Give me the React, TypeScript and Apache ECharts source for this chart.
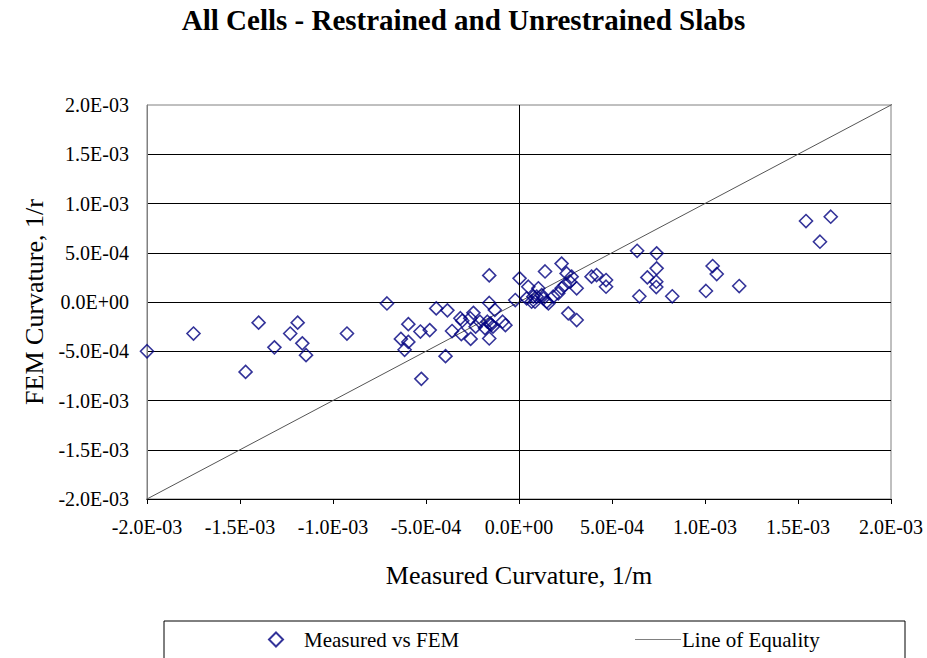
import React, { useEffect, useRef } from "react";
import * as echarts from "echarts";

const TITLE = "All Cells - Restrained and Unrestrained Slabs";
const X_NAME = "Measured Curvature, 1/m";
const Y_NAME = "FEM Curvature, 1/r";
const SERIES_POINTS = "Measured vs FEM";
const SERIES_LINE = "Line of Equality";

// Measured curvature (1/m)
const measured = [
  -2.0e-3, -1.75e-3, -1.47e-3, -1.4e-3, -1.315e-3, -1.23e-3, -1.19e-3, -1.165e-3, -1.145e-3,
  -0.925e-3, -0.71e-3, -0.595e-3, -0.635e-3, -0.595e-3, -0.615e-3, -0.53e-3, -0.525e-3,
  -0.48e-3, -0.445e-3, -0.385e-3, -0.395e-3, -0.36e-3, -0.315e-3, -0.305e-3, -0.31e-3,
  -0.26e-3, -0.245e-3, -0.262e-3, -0.233e-3, -0.21e-3, -0.16e-3, -0.16e-3, -0.13e-3,
  -0.17e-3, -0.155e-3, -0.183e-3, -0.14e-3, -0.16e-3, -0.15e-3, -0.088e-3, -0.073e-3,
  -0.02e-3, 0.003e-3, 0.05e-3, 0.041e-3, 0.077e-3, 0.068e-3, 0.104e-3, 0.095e-3, 0.086e-3,
  0.122e-3, 0.131e-3, 0.14e-3, 0.149e-3, 0.158e-3, 0.184e-3, 0.211e-3, 0.229e-3, 0.229e-3,
  0.247e-3, 0.256e-3, 0.283e-3, 0.274e-3, 0.31e-3, 0.265e-3, 0.31e-3, 0.39e-3, 0.417e-3,
  0.468e-3, 0.468e-3, 0.635e-3, 0.74e-3, 0.74e-3, 0.69e-3, 0.738e-3, 0.738e-3, 0.647e-3,
  0.824e-3, 1.005e-3, 1.041e-3, 1.063e-3, 1.184e-3, 1.543e-3, 1.676e-3, 1.618e-3,
];

// FEM curvature (1/m)
const fem = [
  -0.5e-3, -0.32e-3, -0.71e-3, -0.21e-3, -0.46e-3, -0.32e-3, -0.21e-3, -0.42e-3, -0.54e-3,
  -0.32e-3, -0.015e-3, -0.225e-3, -0.375e-3, -0.405e-3, -0.485e-3, -0.3e-3, -0.78e-3,
  -0.285e-3, -0.065e-3, -0.085e-3, -0.55e-3, -0.295e-3, -0.165e-3, -0.19e-3, -0.325e-3,
  -0.375e-3, -0.11e-3, -0.165e-3, -0.25e-3, -0.2e-3, 0.27e-3, -0.01e-3, -0.08e-3,
  -0.2e-3, -0.22e-3, -0.265e-3, -0.25e-3, -0.37e-3, -0.23e-3, -0.2e-3, -0.235e-3,
  0.02e-3, 0.24e-3, 0.155e-3, 0.037e-3, 0.054e-3, 0.003e-3, 0.139e-3, 0.054e-3, 0.003e-3,
  0.071e-3, 0.037e-3, 0.31e-3, 0.003e-3, -0.014e-3, 0.054e-3, 0.088e-3, 0.139e-3, 0.39e-3,
  0.173e-3, 0.29e-3, 0.257e-3, 0.206e-3, 0.139e-3, -0.115e-3, -0.183e-3, 0.257e-3, 0.274e-3,
  0.223e-3, 0.155e-3, 0.52e-3, 0.494e-3, 0.342e-3, 0.25e-3, 0.206e-3, 0.152e-3, 0.058e-3,
  0.058e-3, 0.112e-3, 0.365e-3, 0.284e-3, 0.162e-3, 0.822e-3, 0.866e-3, 0.612e-3,
];

// Line of equality end points (extends slightly past the plot as in the source)
const equalityX = [-2.05e-3, 2.1e-3];

const AXIS_MIN = -2.0e-3;
const AXIS_MAX = 2.0e-3;
const AXIS_STEP = 0.5e-3;

const FONT = "Liberation Serif";

// thin horizontal line icon, centred vertically in its box (tiny corner dots fix the box)
const LINE_ICON =
  "path://M0,0h0.01v0.01h-0.01z M0,6.5h46v1h-46z M45.99,13.99h0.01v0.01h-0.01z";

function sci(v: number): string {
  if (Math.abs(v) < 1e-12) return "0.0E+00";
  let exp = Math.floor(Math.log10(Math.abs(v)));
  let mant = v / Math.pow(10, exp);
  if (Math.abs(mant) >= 9.95) {
    mant /= 10;
    exp += 1;
  }
  const e = Math.abs(exp);
  return mant.toFixed(1) + "E" + (exp < 0 ? "-" : "+") + (e < 10 ? "0" + e : String(e));
}

export default function App() {
  const ref = useRef<HTMLDivElement>(null);

  useEffect(() => {
    document.body.style.margin = "0";
    if (!ref.current) return;
    const chart = echarts.init(ref.current, undefined, { renderer: "svg" });

    const points = measured.map((m, i) => [m, fem[i]]);
    const eqLine = equalityX.map((v) => [v, v]);

    chart.setOption({
      animation: false,
      backgroundColor: "#ffffff",
      textStyle: { fontFamily: FONT, fontSize: 20, color: "#000" },
      title: {
        text: TITLE,
        left: "center",
        top: 5,
        padding: 0,
        textStyle: { fontFamily: FONT, fontSize: 29, fontWeight: "bold", color: "#000" },
      },
      grid: {
        left: 147,
        right: 36,
        top: 105,
        bottom: 159,
        show: true,
        borderColor: "#808080",
        borderWidth: 1,
        backgroundColor: "transparent",
      },
      xAxis: {
        type: "value",
        min: AXIS_MIN,
        max: AXIS_MAX,
        interval: AXIS_STEP,
        name: X_NAME,
        nameLocation: "middle",
        nameGap: 63,
        nameTextStyle: { fontFamily: FONT, fontSize: 26, color: "#000" },
        axisLine: { show: true, onZero: false, lineStyle: { color: "#000", width: 1 } },
        axisTick: { show: true, inside: false, length: 5, lineStyle: { color: "#000" } },
        axisLabel: {
          fontFamily: FONT,
          fontSize: 20,
          color: "#000",
          margin: 18,
          formatter: (v: number) => sci(v),
        },
        splitLine: { show: false },
      },
      yAxis: {
        type: "value",
        min: AXIS_MIN,
        max: AXIS_MAX,
        interval: AXIS_STEP,
        name: Y_NAME,
        nameLocation: "middle",
        nameGap: 100,
        nameRotate: 90,
        nameTextStyle: { fontFamily: FONT, fontSize: 26, color: "#000" },
        axisLine: { show: true, onZero: false, lineStyle: { color: "#808080", width: 1 } },
        axisTick: { show: false },
        axisLabel: {
          fontFamily: FONT,
          fontSize: 20,
          color: "#000",
          margin: 18,
          formatter: (v: number) => sci(v),
        },
        splitLine: {
          show: true,
          showMaxLine: false,
          showMinLine: false,
          lineStyle: { color: "#000", width: 1 },
        },
      },
      legend: [
        {
          data: [SERIES_POINTS],
          left: 268,
          top: 629,
          padding: 0,
          itemWidth: 14,
          itemHeight: 14,
          textStyle: {
            fontFamily: FONT,
            fontSize: 21,
            color: "#000",
            padding: [0, 0, 0, 16],
          },
        },
        {
          data: [{ name: SERIES_LINE, icon: LINE_ICON }],
          left: 635,
          top: 629,
          padding: 0,
          itemWidth: 46,
          itemHeight: 14,
          itemStyle: { color: "#808080", borderWidth: 0 },
          textStyle: {
            fontFamily: FONT,
            fontSize: 21,
            color: "#000",
            padding: [0, 0, 0, -4],
          },
        },
      ],
      graphic: [
        {
          type: "rect",
          shape: { x: 164, y: 621, width: 741, height: 60 },
          style: { fill: "none", stroke: "#000", lineWidth: 1 },
          silent: true,
          z: 0,
        },
      ],
      series: [
        {
          name: SERIES_LINE,
          type: "line",
          data: eqLine,
          symbol: "none",
          clip: false,
          lineStyle: { color: "#555555", width: 1 },
          itemStyle: { color: "#808080" },
          z: 2,
        },
        {
          name: SERIES_POINTS,
          type: "scatter",
          data: points,
          symbol: "diamond",
          symbolSize: 13,
          itemStyle: { color: "rgba(0,0,0,0)", borderColor: "#000080", borderWidth: 1.6 },
          z: 3,
          markLine: {
            silent: true,
            symbol: ["none", "none"],
            label: { show: false },
            lineStyle: { color: "#000", width: 1, type: "solid" },
            data: [{ xAxis: 0 }],
          },
        },
      ],
    });

    return () => chart.dispose();
  }, []);

  return <div ref={ref} style={{ width: 927, height: 658 }} />;
}
